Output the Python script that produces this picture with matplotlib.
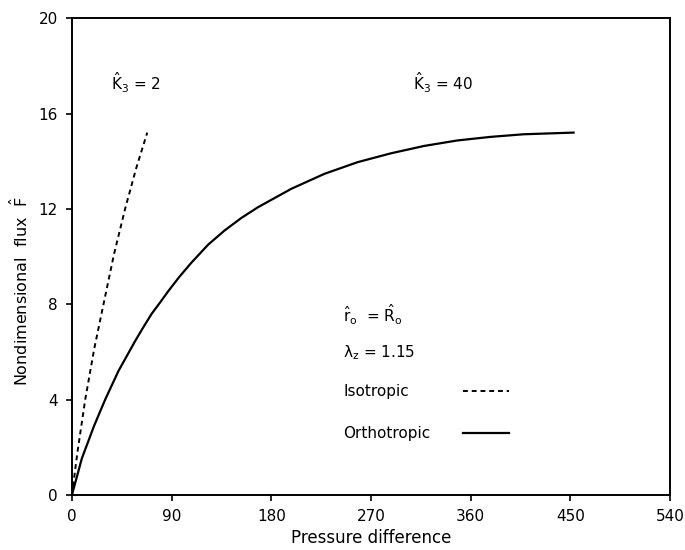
import matplotlib
matplotlib.use("Agg")
import matplotlib.pyplot as plt

# values
iso_dp = [0, 5, 12, 20, 28.5, 38, 48, 58, 68]
iso_flux = [0, 1.8, 4.0, 6.1, 8.0, 10.1, 12.0, 13.7, 15.2]

ortho_dp = [0, 9, 20, 30, 42, 57, 64, 72, 80, 87, 97, 108, 123, 138, 153, 168, 198, 228, 258, 288,
            318, 348, 378, 408, 453]
ortho_flux = [0, 1.54, 2.9, 4.0, 5.2, 6.45, 7.0, 7.6, 8.1, 8.55, 9.15, 9.75, 10.5, 11.1, 11.62, 12.07,
              12.84, 13.47, 13.96, 14.33, 14.64, 14.87, 15.02, 15.13, 15.2]

x_ticks = [0, 90, 180, 270, 360, 450, 540]
y_ticks = [0, 4, 8, 12, 16, 20]

plt.rcParams['mathtext.fontset'] = 'dejavusans'

fig = plt.figure(figsize=(6.85, 5.5), dpi=100)
ax = fig.add_axes([0.105, 0.1, 0.873, 0.867])

ax.plot(iso_dp, iso_flux, color='black', linestyle=(0, (2.5, 2)), linewidth=1.4)
ax.plot(ortho_dp, ortho_flux, color='black', linewidth=1.6)

ax.set_xlim(0, 540)
ax.set_ylim(0, 20)
ax.set_xticks(x_ticks)
ax.set_yticks(y_ticks)
ax.tick_params(direction='out', length=4, width=1.2, labelsize=11, pad=6)
for s in ax.spines.values():
    s.set_linewidth(1.4)

ax.set_xlabel('Pressure difference', fontsize=12, labelpad=4)
fig.text(0.029, 0.47, r'Nondimensional  flux  $\hat{\mathrm{F}}$', fontsize=11.5,
         rotation=90, ha='center', va='center')

# annotations
ax.text(35, 17.3, r'$\hat{\mathrm{K}}_3$ = 2', fontsize=11, va='center')
ax.text(308, 17.3, r'$\hat{\mathrm{K}}_3$ = 40', fontsize=11, va='center')
ax.text(245, 7.55, r'$\hat{\mathrm{r}}_\mathrm{o}$  = $\hat{\mathrm{R}}_\mathrm{o}$', fontsize=11, va='center')
ax.text(245, 5.95, r'$\mathrm{\lambda}_\mathrm{z}$ = 1.15', fontsize=11, va='center')
ax.text(245, 4.35, 'Isotropic', fontsize=11, va='center')
ax.text(245, 2.6, 'Orthotropic', fontsize=11, va='center')

# legend samples
ax.plot([353, 395], [4.35, 4.35], color='black', linestyle=(0, (2.5, 2)), linewidth=1.4)
ax.plot([353, 395], [2.6, 2.6], color='black', linewidth=1.6)

fig.savefig('out.png', dpi=100)
